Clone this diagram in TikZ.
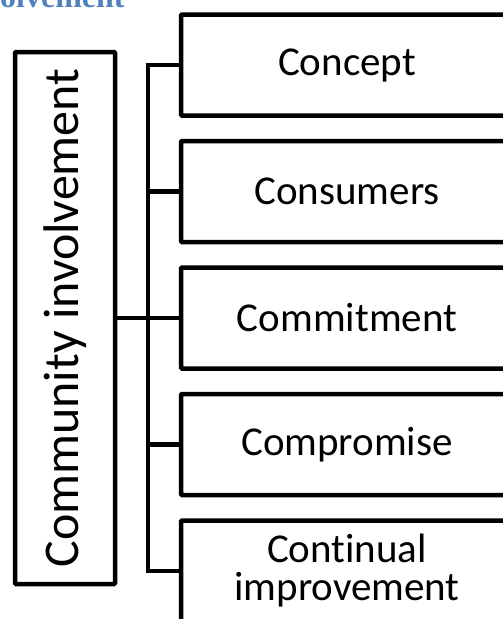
\documentclass[tikz,border=0pt]{standalone}
\usepackage{graphicx}
\usepackage{fontspec}
\setmainfont[Ligatures=NoCommon]{Carlito}
\newfontfamily\headfont{Liberation Serif}
\usetikzlibrary{positioning, calc}
\definecolor{headblue}{RGB}{79,129,189}
\tikzset{
    cbox/.style={draw, line width=4.5pt, outer sep=0pt, rounded corners=1pt, minimum width=332pt,
      minimum height=101pt, align=center, font=\fontsize{41}{38}\selectfont},
    rootbox/.style={draw, line width=4.5pt, outer sep=0pt, rounded corners=1pt, minimum width=100pt,
      minimum height=532pt, font=\fontsize{50}{60}\selectfont},
    link/.style={line width=4.5pt},
}

\begin{document}
\begin{tikzpicture}[x=1pt, y=1pt]
    \tikzset{node distance=25.5pt}
    \useasboundingbox (0,0) rectangle (503,-619);
    \clip (0,0) rectangle (503,-619);

    \node[anchor=base west, inner sep=0pt, text=headblue,
      font=\headfont\bfseries\fontsize{32}{32}\selectfont] (head) at (0,-7) {olvement};

    \node[cbox] (concept) at (347,-65) {Concept};
    \node[cbox, below=of concept] (consumers) {Consumers};
    \node[cbox, below=of consumers] (commit) {Commitment};
    \node[cbox, below=of commit] (compromise) {Compromise};
    \node[cbox, below=of compromise] (improve) {Continual\\improvement};

    \node[rootbox, left=66pt of commit] (comm) {\rotatebox{90}{Community involvement}};

    \coordinate (trunk) at ($(comm.east)!0.5!(commit.west)$);
    \draw[link] (concept.west) -| (trunk |- improve.west) -- (improve.west);
    \draw[link] (comm.east) -- (commit.west);
    \draw[link] (trunk |- consumers.west) -- (consumers.west);
    \draw[link] (trunk |- compromise.west) -- (compromise.west);

\end{tikzpicture}
\end{document}
